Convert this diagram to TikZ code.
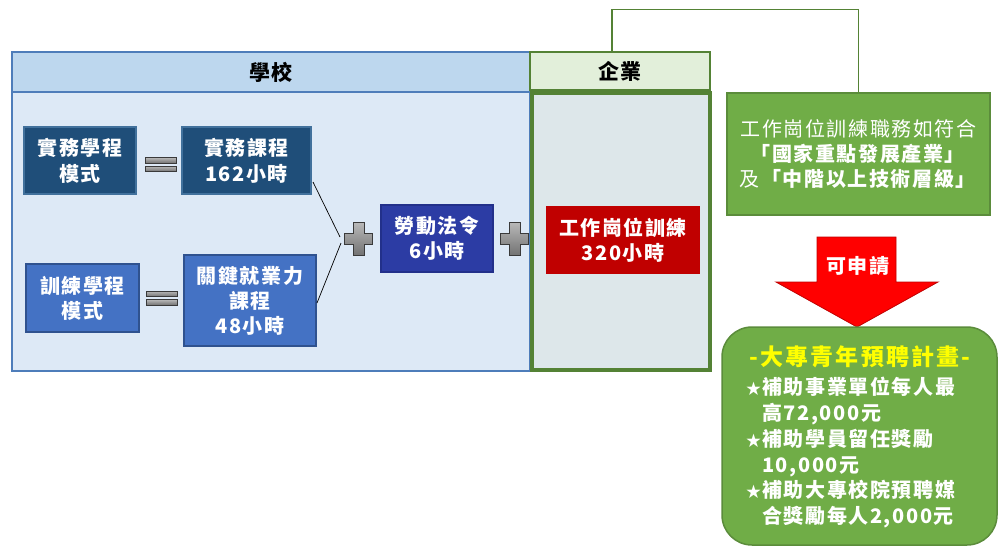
\documentclass[tikz,border=0pt]{standalone}
\usepackage{fontspec}
\setmainfont{Noto Sans CJK TC}
\newfontfamily\cjk{Noto Sans CJK TC}[LetterSpace=8]
\usetikzlibrary{calc}
\definecolor{shfill}{HTML}{BDD7EE}
\definecolor{shdraw}{HTML}{4E7DBA}
\definecolor{sbfill}{HTML}{DDE9F6}
\definecolor{qhfill}{HTML}{E2EFDA}
\definecolor{gdraw}{HTML}{548235}
\definecolor{qbfill}{HTML}{DDE7EA}
\definecolor{dkblue}{HTML}{1F4E79}
\definecolor{dkbluedraw}{HTML}{41719C}
\definecolor{mdblue}{HTML}{4472C4}
\definecolor{mdbluedraw}{HTML}{2F528F}
\definecolor{lawblue}{HTML}{2C3CA4}
\definecolor{lawdraw}{HTML}{22308A}
\definecolor{redbox}{HTML}{C00000}
\definecolor{gfill}{HTML}{70AD47}
\definecolor{gbdraw}{HTML}{5B8C3B}
\definecolor{arrred}{HTML}{FF0000}
\definecolor{ylw}{HTML}{FFFF00}
\definecolor{plusdraw}{HTML}{3A3A3A}
\tikzset{
  txt/.style={inner sep=0pt, align=center, text=white, font={\cjk\bfseries\fontsize{20}{25}\selectfont}},
  box/.style={txt, draw, line width=1.3pt},
  graybar/.style={draw=plusdraw, line width=0.8pt, top color=gray!55, bottom color=gray!90!black},
  plussign/.pic={\path[graybar] (-14,-5.5) -- (-5.5,-5.5) -- (-5.5,-16.5) -- (5.5,-16.5) -- (5.5,-5.5) -- (14,-5.5) -- (14,5.5) -- (5.5,5.5) -- (5.5,16.5) -- (-5.5,16.5) -- (-5.5,5.5) -- (-14,5.5) -- cycle;},
  equalsign/.pic={\path[graybar] (-15.5,-7) rectangle (15.5,-1.5); \path[graybar] (-15.5,1.5) rectangle (15.5,7);}
}
\newcommand\starmark{\makebox[16pt][l]{\fontsize{15}{15}\selectfont ★}}
\begin{document}
\begin{tikzpicture}[x=1pt,y=-1pt]
\useasboundingbox[fill=white] (0,0) rectangle (1004,557);
% school
\node[draw=shdraw, fill=sbfill, line width=1.5pt, minimum width=518, minimum height=279, inner sep=0pt] (sb) at (271,231.5) {};
\node[draw=shdraw, fill=shfill, line width=1.5pt, minimum width=518, minimum height=40, inner sep=0pt, font={\cjk\bfseries\fontsize{21}{25}\selectfont}] (sh) at (271,72) {學校};
% enterprise
\node[draw=gdraw, fill=qhfill, line width=1.5pt, minimum width=180, minimum height=38, inner sep=0pt, font={\cjk\bfseries\fontsize{21}{25}\selectfont}] (qh) at (620,71) {企業};
\node[draw=gdraw, fill=qbfill, line width=4pt, minimum width=178, minimum height=277, inner sep=0pt] (qb) at (621,231.5) {};
% left boxes
\node[box, draw=dkbluedraw, fill=dkblue, minimum width=112, minimum height=67, font={\cjk\bfseries\fontsize{20}{26}\selectfont}] (a1) at (80,160.5) {實務學程\\模式};
\node[box, draw=dkbluedraw, fill=dkblue, minimum width=129, minimum height=67, font={\cjk\bfseries\fontsize{20}{26}\selectfont}] (a2) at (246.5,160.5) {實務課程\\162小時};
\node[box, draw=mdbluedraw, fill=mdblue, minimum width=113, minimum height=68] (b1) at (82.5,298) {訓練學程\\模式};
\node[box, draw=mdbluedraw, fill=mdblue, minimum width=132, minimum height=91] (b2) at (250,300.5) {關鍵就業力\\課程\\48小時};
\pic at (160.5,164.5) {equalsign};
\pic at (161.5,298) {equalsign};
% connectors
\coordinate (l1a) at (313,182);
\coordinate (l1b) at (340,237);
\coordinate (l2a) at (317,303);
\coordinate (l2b) at (341,243);
\draw[line width=0.7pt] (l1a) -- (l1b);
\draw[line width=0.7pt] (l2a) -- (l2b);
\pic at (358.5,238.5) {plussign};
\node[box, draw=lawdraw, fill=lawblue, minimum width=112, minimum height=67] (law) at (437,238.5) {勞動法令\\6小時};
\pic at (514.5,238.5) {plussign};
\node[box, draw=redbox, fill=redbox, minimum width=152, minimum height=66] (red) at (623,240) {工作崗位訓練\\320小時};
% green condition box
\node[draw=gbdraw, fill=gfill, line width=1.5pt, minimum width=263, minimum height=122, inner sep=0pt, align=center, text=white, font={\cjk\fontsize{20}{25}\selectfont}] (gb) at (858.5,154) {工作崗位訓練職務如符合\\\textbf{「國家重點發展產業」}\\及\textbf{「中階以上技術層級」}};
\draw[gdraw, line width=1.5pt] ($(qh.north)+(-8,0)$) |- ($(gb.north)+(0,-83)$) -- (gb.north);
% red arrow
\path[fill=arrred, draw=redbox, line width=0.8pt] (817,237) -- (896,237) -- (896,282) -- (938,282) -- (857,327) -- (776,282) -- (817,282) -- cycle;
\node[txt] (apply) at (858,266) {可申請};
% rounded box
\node[draw=gbdraw, fill=gfill, line width=1.5pt, rounded corners=30pt, minimum width=275, minimum height=218, inner sep=0pt] (rb) at (859.5,436) {};
\node[txt, text=ylw, font={\cjk\bfseries\fontsize{23}{25}\selectfont\addfontfeatures{LetterSpace=9}}] (title) at (860,357) {-大專青年預聘計畫-};
\node[txt, align=left, anchor=north west, font={\cjk\bfseries\fontsize{20}{25.8}\selectfont}] (body) at (746,377) {\starmark 補助事業單位每人最\\
\hspace*{16pt}高72,000元\\
\starmark 補助學員留任獎勵\\
\hspace*{16pt}10,000元\\
\starmark 補助大專校院預聘媒\\
\hspace*{16pt}合獎勵每人2,000元};
\end{tikzpicture}
\end{document}
